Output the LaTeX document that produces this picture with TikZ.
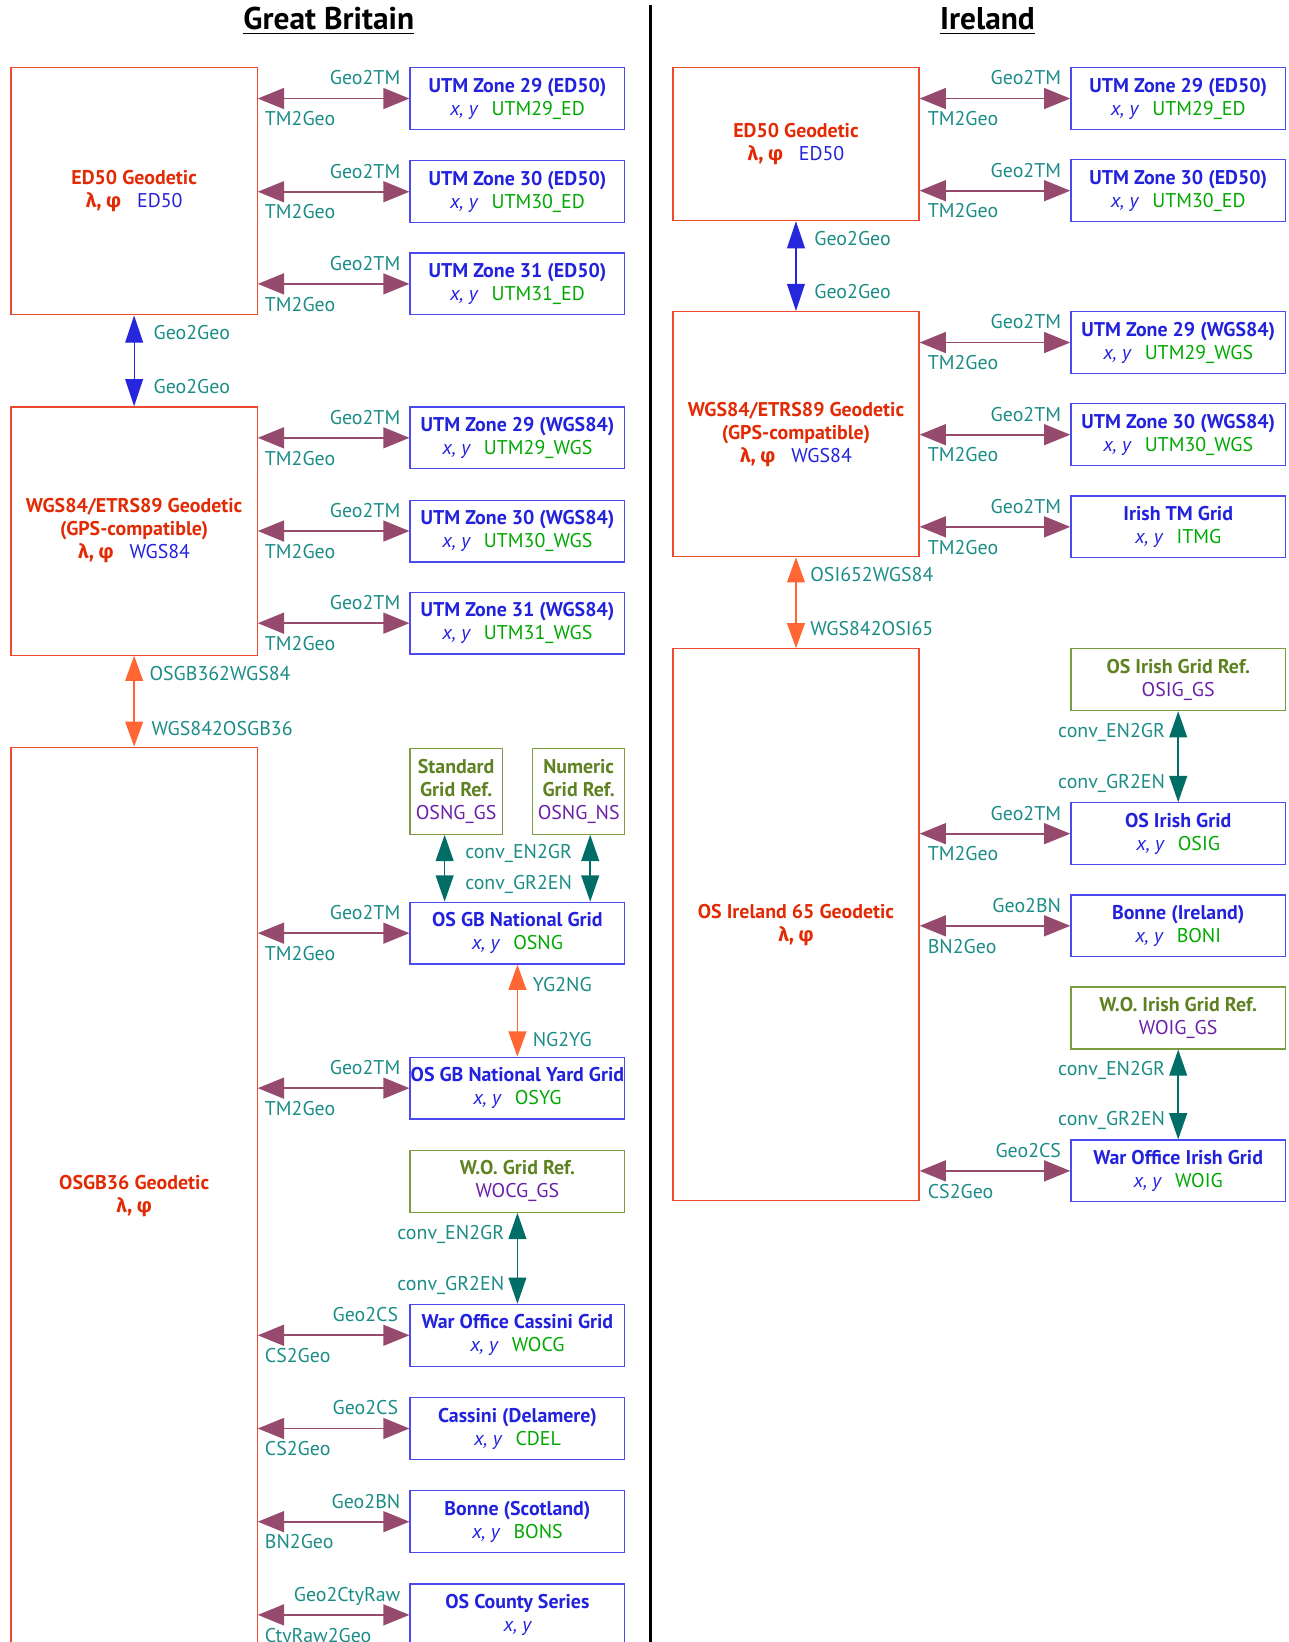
\documentclass[tikz,border=0pt]{standalone}
\usepackage{fontspec}
\setmainfont{PT Sans}
\newfontfamily\grkfont{Fira Sans}
\usetikzlibrary{arrows.meta,calc}

\definecolor{geoborder}{HTML}{EE4A2E}
\definecolor{geotext}{HTML}{E22A04}
\definecolor{gridborder}{HTML}{4A4AEE}
\definecolor{gridtext}{HTML}{2222DD}
\definecolor{codegreen}{HTML}{00A800}
\definecolor{refborder}{HTML}{7C9C44}
\definecolor{reftext}{HTML}{5E8222}
\definecolor{refcode}{HTML}{6A20A8}
\definecolor{lbltext}{HTML}{1B8C86}
\definecolor{tmarrow}{HTML}{954A6E}
\definecolor{grarrow}{HTML}{006E66}
\definecolor{datumarrow}{HTML}{FF6633}
\definecolor{geoarrow}{HTML}{2626DD}

\newcommand{\boxfont}{\fontsize{9.5}{11}\selectfont}
\newcommand{\lamphi}{{\grkfont λ, φ}}
\newcommand{\xyvar}{{\mdseries\itshape x, y}}
\newcommand{\gridcode}[1]{{\mdseries\color{codegreen}#1}}
\newcommand{\datumcode}[1]{{\mdseries\color{gridtext}#1}}
\newcommand{\refcodetext}[1]{{\mdseries\color{refcode}#1}}

\tikzset{every picture/.style={line width=0.6pt},
  geobox/.style={draw=geoborder, text=geotext, font=\boxfont\bfseries, align=center,
    anchor=north west, minimum width=117.5pt, inner sep=0pt},
  gridbox/.style={draw=gridborder, text=gridtext, font=\boxfont\bfseries, align=center,
    anchor=north west, minimum width=102.5pt, minimum height=29.5pt, inner sep=0pt},
  refbox/.style={draw=refborder, text=reftext, font=\boxfont\bfseries, align=center,
    anchor=north west, minimum width=102.5pt, minimum height=29.5pt, inner sep=0pt},
  convlbl/.style={text=lbltext, font=\boxfont, inner sep=0pt},
  titlelbl/.style={font=\fontsize{15}{18}\selectfont\bfseries, inner sep=0pt},
  tmlink/.style={draw=tmarrow, line width=0.8pt, >={Triangle[length=12.5pt,width=10pt]}, <->},
  geolink/.style={draw=geoarrow, line width=0.6pt, >={Triangle[length=13pt,width=8.5pt]}, <->},
  datumlink/.style={draw=datumarrow, line width=0.7pt, >={Triangle[length=12pt,width=8.5pt]}, <->},
  grlink/.style={draw=grarrow, line width=0.7pt, >={Triangle[length=12.5pt,width=8.5pt]}, <->}
}

\begin{document}
\begin{tikzpicture}[x=0.5pt,y=0.5pt,yscale=-1,xscale=1]
\useasboundingbox (0,0) rectangle (1230,1568);

% Titles
\node[titlelbl] (gbtitle) at (314,20) {\underline{Great Britain}};
\node[titlelbl] (ietitle) at (943,20) {\underline{Ireland}};
%Straight Lines: divider
\draw[line width=1.5pt] (621,5) -- (621,1568);

%%% Great Britain
% Geodetic boxes
\node[geobox, minimum height=118pt] (ed50gb) at (10,64) {ED50 Geodetic\\\lamphi\hspace{0.8em}\datumcode{ED50}};
\node[geobox, minimum height=118.5pt] (wgsgb) at (10,388) {WGS84/ETRS89 Geodetic\\(GPS-compatible)\\\lamphi\hspace{0.8em}\datumcode{WGS84}};
\node[geobox, minimum height=429pt] (osgb) at (10,713) {OSGB36 Geodetic\\\lamphi};

% Grid boxes
\node[gridbox] (utm29ed) at (391,64) {UTM Zone 29 (ED50)\\\xyvar\hspace{0.7em}\gridcode{UTM29\_ED}};
\node[gridbox] (utm30ed) at (391,153) {UTM Zone 30 (ED50)\\\xyvar\hspace{0.7em}\gridcode{UTM30\_ED}};
\node[gridbox] (utm31ed) at (391,241) {UTM Zone 31 (ED50)\\\xyvar\hspace{0.7em}\gridcode{UTM31\_ED}};
\node[gridbox] (utm29wgs) at (391,388) {UTM Zone 29 (WGS84)\\\xyvar\hspace{0.7em}\gridcode{UTM29\_WGS}};
\node[gridbox] (utm30wgs) at (391,477) {UTM Zone 30 (WGS84)\\\xyvar\hspace{0.7em}\gridcode{UTM30\_WGS}};
\node[gridbox] (utm31wgs) at (391,565) {UTM Zone 31 (WGS84)\\\xyvar\hspace{0.7em}\gridcode{UTM31\_WGS}};
\node[refbox, minimum width=44pt, minimum height=41pt] (osnggs) at (391,714) {Standard\\Grid Ref.\\\refcodetext{OSNG\_GS}};
\node[refbox, minimum width=44pt, minimum height=41pt] (osngns) at (508,714) {Numeric\\Grid Ref.\\\refcodetext{OSNG\_NS}};
\node[gridbox] (osng) at (391,861) {OS GB National Grid\\\xyvar\hspace{0.7em}\gridcode{OSNG}};
\node[gridbox] (osyg) at (391,1009) {OS GB National Yard Grid\\\xyvar\hspace{0.7em}\gridcode{OSYG}};
\node[refbox] (wocggs) at (391,1098) {W.O. Grid Ref.\\\refcodetext{WOCG\_GS}};
\node[gridbox] (wocg) at (391,1245) {War Office Cassini Grid\\\xyvar\hspace{0.7em}\gridcode{WOCG}};
\node[gridbox] (cdel) at (391,1334) {Cassini (Delamere)\\\xyvar\hspace{0.7em}\gridcode{CDEL}};
\node[gridbox] (bons) at (391,1423) {Bonne (Scotland)\\\xyvar\hspace{0.7em}\gridcode{BONS}};
\node[gridbox] (cty) at (391,1512) {OS County Series\\\xyvar};

% Horizontal links
\draw[tmlink] (utm29ed.west -| ed50gb.east) -- (utm29ed.west)
  node[convlbl, pos=1, anchor=base east, shift={(-8,13)}] {Geo2TM}
  node[convlbl, pos=0, anchor=base west, shift={(6,-26)}] {TM2Geo};
\draw[tmlink] (utm30ed.west -| ed50gb.east) -- (utm30ed.west)
  node[convlbl, pos=1, anchor=base east, shift={(-8,13)}] {Geo2TM}
  node[convlbl, pos=0, anchor=base west, shift={(6,-26)}] {TM2Geo};
\draw[tmlink] (utm31ed.west -| ed50gb.east) -- (utm31ed.west)
  node[convlbl, pos=1, anchor=base east, shift={(-8,13)}] {Geo2TM}
  node[convlbl, pos=0, anchor=base west, shift={(6,-26)}] {TM2Geo};
\draw[tmlink] (utm29wgs.west -| wgsgb.east) -- (utm29wgs.west)
  node[convlbl, pos=1, anchor=base east, shift={(-8,13)}] {Geo2TM}
  node[convlbl, pos=0, anchor=base west, shift={(6,-26)}] {TM2Geo};
\draw[tmlink] (utm30wgs.west -| wgsgb.east) -- (utm30wgs.west)
  node[convlbl, pos=1, anchor=base east, shift={(-8,13)}] {Geo2TM}
  node[convlbl, pos=0, anchor=base west, shift={(6,-26)}] {TM2Geo};
\draw[tmlink] (utm31wgs.west -| wgsgb.east) -- (utm31wgs.west)
  node[convlbl, pos=1, anchor=base east, shift={(-8,13)}] {Geo2TM}
  node[convlbl, pos=0, anchor=base west, shift={(6,-26)}] {TM2Geo};
\draw[tmlink] (osng.west -| osgb.east) -- (osng.west)
  node[convlbl, pos=1, anchor=base east, shift={(-8,13)}] {Geo2TM}
  node[convlbl, pos=0, anchor=base west, shift={(6,-26)}] {TM2Geo};
\draw[tmlink] (osyg.west -| osgb.east) -- (osyg.west)
  node[convlbl, pos=1, anchor=base east, shift={(-8,13)}] {Geo2TM}
  node[convlbl, pos=0, anchor=base west, shift={(6,-26)}] {TM2Geo};
\draw[tmlink] (wocg.west -| osgb.east) -- (wocg.west)
  node[convlbl, pos=1, anchor=base east, shift={(-10,13)}] {Geo2CS}
  node[convlbl, pos=0, anchor=base west, shift={(6,-26)}] {CS2Geo};
\draw[tmlink] (cdel.west -| osgb.east) -- (cdel.west)
  node[convlbl, pos=1, anchor=base east, shift={(-10,13)}] {Geo2CS}
  node[convlbl, pos=0, anchor=base west, shift={(6,-26)}] {CS2Geo};
\draw[tmlink] (bons.west -| osgb.east) -- (bons.west)
  node[convlbl, pos=1, anchor=base east, shift={(-8,13)}] {Geo2BN}
  node[convlbl, pos=0, anchor=base west, shift={(6,-26)}] {BN2Geo};
\draw[tmlink] (cty.west -| osgb.east) -- (cty.west)
  node[convlbl, pos=1, anchor=base east, shift={(-8,13)}] {Geo2CtyRaw}
  node[convlbl, pos=0, anchor=base west, shift={(6,-26)}] {CtyRaw2Geo};

% Vertical links
\draw[geolink] (ed50gb.south) -- (wgsgb.north)
  node[convlbl, pos=0, anchor=base west, shift={(18,-23)}] {Geo2Geo}
  node[convlbl, pos=1, anchor=base west, shift={(18,12)}] {Geo2Geo};
\draw[datumlink] (wgsgb.south) -- (osgb.north)
  node[convlbl, pos=0, anchor=base west, shift={(14,-24)}] {OSGB362WGS84}
  node[convlbl, pos=1, anchor=base west, shift={(16,11)}] {WGS842OSGB36};
\draw[grlink] ([xshift=-5.5pt]osnggs.south) -- ([xshift=-5.5pt]osnggs.south |- osng.north)
  node[convlbl, pos=0, anchor=base west, shift={(19,-23)}] {conv\_EN2GR}
  node[convlbl, pos=1, anchor=base west, shift={(19,12)}] {conv\_GR2EN};
\draw[grlink] ([xshift=5.5pt]osngns.south) -- ([xshift=5.5pt]osngns.south |- osng.north);
\draw[datumlink] (osng.south) -- (osyg.north)
  node[convlbl, pos=0, anchor=base west, shift={(14,-26)}] {YG2NG}
  node[convlbl, pos=1, anchor=base west, shift={(14,10)}] {NG2YG};
\draw[grlink] (wocggs.south) -- (wocg.north)
  node[convlbl, pos=0, anchor=base east, shift={(-12,-25)}] {conv\_EN2GR}
  node[convlbl, pos=1, anchor=base east, shift={(-12,13)}] {conv\_GR2EN};

%%% Ireland
% Geodetic boxes
\node[geobox, minimum height=73pt] (ed50ie) at (642,64) {ED50 Geodetic\\\lamphi\hspace{0.8em}\datumcode{ED50}};
\node[geobox, minimum height=117pt] (wgsie) at (642,297) {WGS84/ETRS89 Geodetic\\(GPS-compatible)\\\lamphi\hspace{0.8em}\datumcode{WGS84}};
\node[geobox, minimum height=263.5pt] (osie) at (642,619) {OS Ireland 65 Geodetic\\\lamphi};

% Grid boxes
\node[gridbox] (utm29edie) at (1022,64) {UTM Zone 29 (ED50)\\\xyvar\hspace{0.7em}\gridcode{UTM29\_ED}};
\node[gridbox] (utm30edie) at (1022,152) {UTM Zone 30 (ED50)\\\xyvar\hspace{0.7em}\gridcode{UTM30\_ED}};
\node[gridbox] (utm29wgsie) at (1022,297) {UTM Zone 29 (WGS84)\\\xyvar\hspace{0.7em}\gridcode{UTM29\_WGS}};
\node[gridbox] (utm30wgsie) at (1022,385) {UTM Zone 30 (WGS84)\\\xyvar\hspace{0.7em}\gridcode{UTM30\_WGS}};
\node[gridbox] (itmg) at (1022,473) {Irish TM Grid\\\xyvar\hspace{0.7em}\gridcode{ITMG}};
\node[refbox] (osiggs) at (1022,619) {OS Irish Grid Ref.\\\refcodetext{OSIG\_GS}};
\node[gridbox] (osig) at (1022,766) {OS Irish Grid\\\xyvar\hspace{0.7em}\gridcode{OSIG}};
\node[gridbox] (boni) at (1022,854) {Bonne (Ireland)\\\xyvar\hspace{0.7em}\gridcode{BONI}};
\node[refbox] (woiggs) at (1022,942) {W.O. Irish Grid Ref.\\\refcodetext{WOIG\_GS}};
\node[gridbox] (woig) at (1022,1088) {War Office Irish Grid\\\xyvar\hspace{0.7em}\gridcode{WOIG}};

% Horizontal links
\draw[tmlink] (utm29edie.west -| ed50ie.east) -- (utm29edie.west)
  node[convlbl, pos=1, anchor=base east, shift={(-8,13)}] {Geo2TM}
  node[convlbl, pos=0, anchor=base west, shift={(7,-26)}] {TM2Geo};
\draw[tmlink] (utm30edie.west -| ed50ie.east) -- (utm30edie.west)
  node[convlbl, pos=1, anchor=base east, shift={(-8,13)}] {Geo2TM}
  node[convlbl, pos=0, anchor=base west, shift={(7,-26)}] {TM2Geo};
\draw[tmlink] (utm29wgsie.west -| wgsie.east) -- (utm29wgsie.west)
  node[convlbl, pos=1, anchor=base east, shift={(-8,13)}] {Geo2TM}
  node[convlbl, pos=0, anchor=base west, shift={(7,-26)}] {TM2Geo};
\draw[tmlink] (utm30wgsie.west -| wgsie.east) -- (utm30wgsie.west)
  node[convlbl, pos=1, anchor=base east, shift={(-8,13)}] {Geo2TM}
  node[convlbl, pos=0, anchor=base west, shift={(7,-26)}] {TM2Geo};
\draw[tmlink] (itmg.west -| wgsie.east) -- (itmg.west)
  node[convlbl, pos=1, anchor=base east, shift={(-8,13)}] {Geo2TM}
  node[convlbl, pos=0, anchor=base west, shift={(7,-26)}] {TM2Geo};
\draw[tmlink] (osig.west -| osie.east) -- (osig.west)
  node[convlbl, pos=1, anchor=base east, shift={(-8,13)}] {Geo2TM}
  node[convlbl, pos=0, anchor=base west, shift={(7,-26)}] {TM2Geo};
\draw[tmlink] (boni.west -| osie.east) -- (boni.west)
  node[convlbl, pos=1, anchor=base east, shift={(-8,13)}] {Geo2BN}
  node[convlbl, pos=0, anchor=base west, shift={(7,-26)}] {BN2Geo};
\draw[tmlink] (woig.west -| osie.east) -- (woig.west)
  node[convlbl, pos=1, anchor=base east, shift={(-8,13)}] {Geo2CS}
  node[convlbl, pos=0, anchor=base west, shift={(7,-26)}] {CS2Geo};

% Vertical links
\draw[geolink] (ed50ie.south) -- (wgsie.north)
  node[convlbl, pos=0, anchor=base west, shift={(17,-23)}] {Geo2Geo}
  node[convlbl, pos=1, anchor=base west, shift={(17,12)}] {Geo2Geo};
\draw[datumlink] (wgsie.south) -- (osie.north)
  node[convlbl, pos=0, anchor=base west, shift={(13,-23)}] {OSI652WGS84}
  node[convlbl, pos=1, anchor=base west, shift={(13,12)}] {WGS842OSI65};
\draw[grlink] (osiggs.south) -- (osig.north)
  node[convlbl, pos=0, anchor=base east, shift={(-12,-25)}] {conv\_EN2GR}
  node[convlbl, pos=1, anchor=base east, shift={(-12,13)}] {conv\_GR2EN};
\draw[grlink] (woiggs.south) -- (woig.north)
  node[convlbl, pos=0, anchor=base east, shift={(-12,-25)}] {conv\_EN2GR}
  node[convlbl, pos=1, anchor=base east, shift={(-12,13)}] {conv\_GR2EN};

\end{tikzpicture}
\end{document}
